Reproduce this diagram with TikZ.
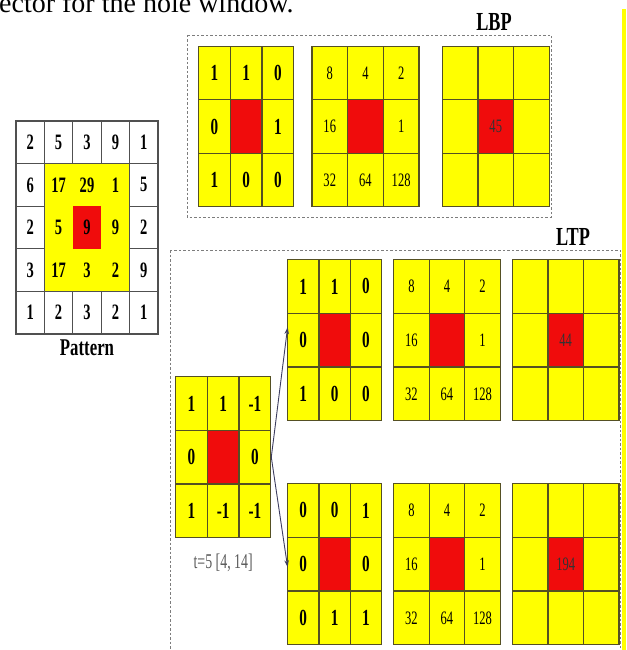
\documentclass[tikz,border=0pt]{standalone}
\usepackage{fontspec}
\setmainfont{Liberation Serif}
\newfontfamily\numfont[FakeStretch=0.66]{Liberation Serif}
\newfontfamily\labfont[FakeStretch=0.7]{Liberation Serif}
\usetikzlibrary{arrows.meta,matrix,positioning}
\definecolor{cellyellow}{RGB}{255,255,0}
\definecolor{cellred}{RGB}{240,12,12}
\definecolor{gridline}{RGB}{85,80,35}
\definecolor{patline}{RGB}{80,80,80}
\definecolor{boxgray}{RGB}{125,125,125}
\definecolor{arrowgray}{RGB}{60,60,95}

\begin{document}
\begin{tikzpicture}[x=1pt,y=-1pt,
      cell/.style={draw=gridline,fill=cellyellow,line width=1.2pt,inner sep=0pt,outer sep=0pt,
        anchor=center,font=\numfont\bfseries\fontsize{23}{23}\selectfont},
      board/.style 2 args={matrix of nodes,nodes in empty cells,inner sep=0pt,outer sep=0pt,
        anchor=north west,column sep=-1.2pt,row sep=-1.2pt,
        nodes={cell,minimum width=#1,minimum height=#2}},
      wgt/.style={font=\numfont\fontsize{19}{19}\selectfont},
      hot/.style={fill=cellred,font=\numfont\fontsize{19}{19}\selectfont,text=black!80},
      dbox/.style={draw=boxgray,dash pattern=on 2.5pt off 2pt,line width=.8pt},
      arr/.style={draw=arrowgray,line width=.9pt,-{Stealth[length=7pt,width=4.5pt]}},
      lab/.style={font=\labfont\bfseries\fontsize{26}{26}\selectfont,inner sep=0pt}]
  \useasboundingbox (0,0) rectangle (626,650);
  \clip (0,0) rectangle (626,650);
  % cut-off text line and page marker
  \node[anchor=base west,inner sep=0pt,font=\fontsize{28}{28}\selectfont] (cap) at (-1,13) {ector for the hole window.};
  \fill[cellyellow] (622,9) rectangle (625.5,650);

  % pattern
  \matrix (pat) [board={28.4pt}{42.6pt},column sep=0pt,row sep=0pt,
      nodes={draw=none,fill=white,font=\numfont\bfseries\fontsize{22}{22}\selectfont}] at (16,121) {
    2 & 5 & 3 & 9 & 1 \\
    6 & |[fill=cellyellow]| 17 & |[fill=cellyellow]| 29 & |[fill=cellyellow]| 1 & 5 \\
    2 & |[fill=cellyellow]| 5 & |[fill=cellred]| 9 & |[fill=cellyellow]| 9 & 2 \\
    3 & |[fill=cellyellow]| 17 & |[fill=cellyellow]| 3 & |[fill=cellyellow]| 2 & 9 \\
    1 & 2 & 3 & 2 & 1 \\
  };
  \foreach \r/\c in {1/1,1/2,1/3,1/4,1/5,2/1,2/5,3/1,3/5,4/1,4/5,5/1,5/2,5/3,5/4,5/5}
    \draw[patline,line width=1.2pt] (pat-\r-\c.north west) rectangle (pat-\r-\c.south east);
  \node[lab,font=\labfont\bfseries\fontsize{24}{24}\selectfont,below=6pt of pat] (patlab) {Pattern};

  % LBP
  \draw[dbox] (187,35) rectangle (551,217);
  \node[lab] (lbplab) at (494,22) {LBP};
  \matrix (lbpbin) [board={31.7pt}{53.3pt}] at (198,46) {
    1 & 1 & 0 \\
    0 & |[hot]| & 1 \\
    1 & 0 & 0 \\
  };
  \matrix (lbpwgt) [board={35.7pt}{53.3pt},nodes={wgt},right=17pt of lbpbin] {
    8 & 4 & 2 \\
    16 & |[hot]| & 1 \\
    32 & 64 & 128 \\
  };
  \matrix (lbpval) [board={35.7pt}{53.3pt},right=22pt of lbpwgt] {
    & & \\
    & |[hot]| 45 & \\
    & & \\
  };

  % LTP
  \draw[dbox] (170,250) rectangle (620,665);
  \node[lab] (ltplab) at (573,237) {LTP};
  \matrix (ltpcode) [board={31.7pt}{53.7pt}] at (175,376) {
    1 & 1 & -1 \\
    0 & |[hot]| & 0 \\
    1 & -1 & -1 \\
  };
  \node[font=\numfont\fontsize{21}{21}\selectfont,text=black!65,inner sep=0pt,below=15pt of ltpcode] (thr) {t=5\,[4, 14]};

  \matrix (upbin) [board={31.3pt}{53.7pt}] at (287,259) {
    1 & 1 & 0 \\
    0 & |[hot]| & 0 \\
    1 & 0 & 0 \\
  };
  \matrix (upwgt) [board={35.5pt}{53.7pt},nodes={wgt},right=11pt of upbin] {
    8 & 4 & 2 \\
    16 & |[hot]| & 1 \\
    32 & 64 & 128 \\
  };
  \matrix (upval) [board={35.5pt}{53.7pt},right=11pt of upwgt] {
    & & \\
    & |[hot]| 44 & \\
    & & \\
  };

  \matrix (lobin) [board={31.3pt}{53.7pt}] at (287,483) {
    0 & 0 & 1 \\
    0 & |[hot]| & 0 \\
    0 & 1 & 1 \\
  };
  \matrix (lowgt) [board={35.5pt}{53.7pt},nodes={wgt},right=11pt of lobin] {
    8 & 4 & 2 \\
    16 & |[hot]| & 1 \\
    32 & 64 & 128 \\
  };
  \matrix (loval) [board={35.5pt}{53.7pt},right=11pt of lowgt] {
    & & \\
    & |[hot]| 194 & \\
    & & \\
  };

  \draw[arr] (ltpcode.east) -- ([yshift=13pt]upbin-2-1.west);
  \draw[arr] (ltpcode.east) -- ([yshift=-3pt]lobin-2-1.west);
\end{tikzpicture}
\end{document}
